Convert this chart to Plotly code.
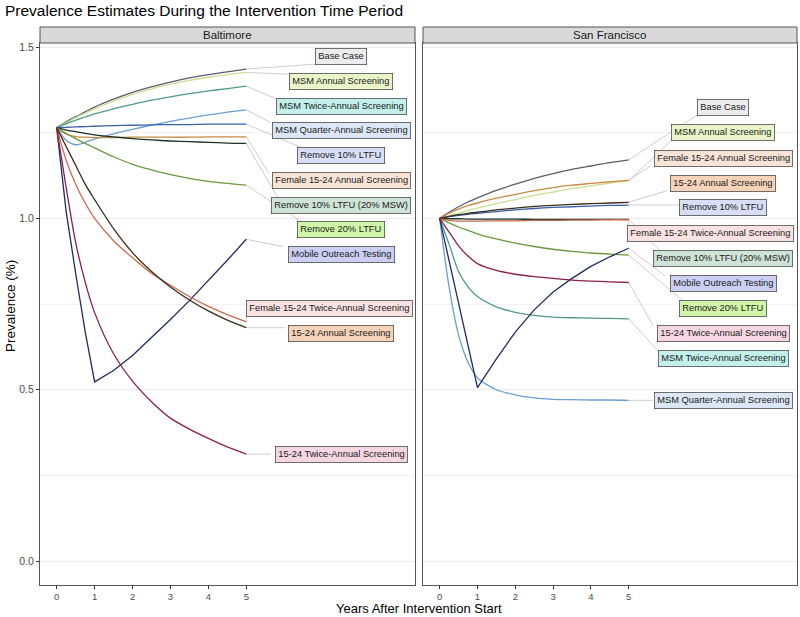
import plotly.graph_objects as go

# ---------------- data ----------------
years = [0, 0.25, 0.5, 0.75, 1, 1.5, 2, 2.5, 3, 3.5, 4, 4.5, 5]

scenarios = [
    "Base Case", "MSM Annual Screening", "MSM Twice-Annual Screening",
    "MSM Quarter-Annual Screening", "Remove 10% LTFU", "Female 15-24 Annual Screening",
    "Remove 10% LTFU (20% MSW)", "Remove 20% LTFU", "Mobile Outreach Testing",
    "Female 15-24 Twice-Annual Screening", "15-24 Annual Screening", "15-24 Twice-Annual Screening",
]

baltimore = {
    "Base Case":                     [1.265, 1.282, 1.297, 1.311, 1.325, 1.348, 1.368, 1.384, 1.398, 1.410, 1.420, 1.428, 1.436],
    "MSM Annual Screening":          [1.265, 1.279, 1.294, 1.307, 1.320, 1.342, 1.362, 1.378, 1.392, 1.403, 1.412, 1.420, 1.426],
    "MSM Twice-Annual Screening":    [1.265, 1.276, 1.287, 1.296, 1.305, 1.320, 1.333, 1.345, 1.355, 1.364, 1.372, 1.379, 1.386],
    "MSM Quarter-Annual Screening":  [1.265, 1.228, 1.215, 1.222, 1.232, 1.247, 1.260, 1.272, 1.283, 1.293, 1.302, 1.310, 1.317],
    "Remove 10% LTFU":               [1.265, 1.266, 1.267, 1.268, 1.269, 1.271, 1.272, 1.273, 1.274, 1.274, 1.275, 1.275, 1.275],
    "Female 15-24 Annual Screening": [1.265, 1.246, 1.239, 1.237, 1.236, 1.236, 1.237, 1.237, 1.237, 1.237, 1.238, 1.238, 1.238],
    "Remove 10% LTFU (20% MSW)":     [1.265, 1.258, 1.253, 1.248, 1.244, 1.238, 1.233, 1.229, 1.226, 1.224, 1.222, 1.220, 1.219],
    "Remove 20% LTFU":               [1.265, 1.248, 1.233, 1.219, 1.206, 1.180, 1.158, 1.142, 1.128, 1.117, 1.108, 1.102, 1.097],
    "Mobile Outreach Testing":       [1.265, 1.020, 0.840, 0.670, 0.523, 0.556, 0.600, 0.652, 0.705, 0.760, 0.818, 0.878, 0.939],
    "Female 15-24 Twice-Annual Screening": [1.265, 1.170, 1.100, 1.045, 1.000, 0.935, 0.885, 0.840, 0.805, 0.772, 0.743, 0.719, 0.698],
    "15-24 Annual Screening":        [1.265, 1.210, 1.155, 1.100, 1.055, 0.970, 0.900, 0.845, 0.800, 0.762, 0.730, 0.703, 0.681],
    "15-24 Twice-Annual Screening":  [1.265, 1.090, 0.930, 0.815, 0.725, 0.605, 0.525, 0.465, 0.417, 0.385, 0.358, 0.333, 0.312],
}

san_francisco = {
    "Base Case":                     [1.0, 1.018, 1.034, 1.048, 1.060, 1.082, 1.100, 1.117, 1.131, 1.143, 1.153, 1.163, 1.171],
    "MSM Annual Screening":          [1.0, 1.008, 1.015, 1.023, 1.030, 1.043, 1.055, 1.067, 1.077, 1.087, 1.095, 1.103, 1.110],
    "MSM Twice-Annual Screening":    [1.0, 0.925, 0.845, 0.800, 0.772, 0.742, 0.726, 0.717, 0.712, 0.710, 0.709, 0.708, 0.707],
    "MSM Quarter-Annual Screening":  [1.0, 0.800, 0.660, 0.580, 0.535, 0.500, 0.485, 0.476, 0.472, 0.471, 0.470, 0.470, 0.469],
    "Remove 10% LTFU":               [1.0, 1.005, 1.009, 1.012, 1.015, 1.020, 1.025, 1.029, 1.032, 1.034, 1.036, 1.038, 1.039],
    "Female 15-24 Annual Screening": [1.0, 1.015, 1.027, 1.037, 1.045, 1.059, 1.070, 1.081, 1.090, 1.097, 1.102, 1.107, 1.111],
    "Remove 10% LTFU (20% MSW)":     [1.0, 0.999, 0.999, 0.998, 0.998, 0.998, 0.998, 0.997, 0.997, 0.997, 0.997, 0.997, 0.997],
    "Remove 20% LTFU":               [1.0, 0.987, 0.975, 0.965, 0.955, 0.940, 0.928, 0.918, 0.910, 0.904, 0.899, 0.896, 0.893],
    "Mobile Outreach Testing":       [1.0, 0.875, 0.750, 0.627, 0.506, 0.590, 0.668, 0.733, 0.785, 0.825, 0.860, 0.888, 0.913],
    "Female 15-24 Twice-Annual Screening": [1.0, 0.994, 0.992, 0.992, 0.992, 0.993, 0.993, 0.994, 0.994, 0.995, 0.995, 0.996, 0.996],
    "15-24 Annual Screening":        [1.0, 1.006, 1.011, 1.015, 1.018, 1.025, 1.030, 1.035, 1.038, 1.041, 1.043, 1.045, 1.047],
    "15-24 Twice-Annual Screening":  [1.0, 0.960, 0.920, 0.890, 0.868, 0.848, 0.837, 0.830, 0.825, 0.820, 0.817, 0.815, 0.813],
}

x_ticks = [0, 1, 2, 3, 4, 5]
y_ticks = [0.0, 0.5, 1.0, 1.5]
y_tick_labels = ["0.0", "0.5", "1.0", "1.5"]

# ---------------- styles / layout positions ----------------
line_colors = {
    "Base Case": "#5c5f6b",
    "MSM Annual Screening": "#c9df92",
    "MSM Twice-Annual Screening": "#4f9a88",
    "MSM Quarter-Annual Screening": "#6b9fd2",
    "Remove 10% LTFU": "#3b60aa",
    "Female 15-24 Annual Screening": "#c88a45",
    "Remove 10% LTFU (20% MSW)": "#1e3326",
    "Remove 20% LTFU": "#6a9a3c",
    "Mobile Outreach Testing": "#1f2d5c",
    "Female 15-24 Twice-Annual Screening": "#cc6a50",
    "15-24 Annual Screening": "#3a2c1c",
    "15-24 Twice-Annual Screening": "#8a2050",
}
label_fills = {
    "Base Case": "#ececec",
    "MSM Annual Screening": "#e9f5c9",
    "MSM Twice-Annual Screening": "#c3f0ea",
    "MSM Quarter-Annual Screening": "#dde6f5",
    "Remove 10% LTFU": "#d8def5",
    "Female 15-24 Annual Screening": "#f8e4d6",
    "Remove 10% LTFU (20% MSW)": "#cfe3d6",
    "Remove 20% LTFU": "#d0f5a8",
    "Mobile Outreach Testing": "#cbd0f2",
    "Female 15-24 Twice-Annual Screening": "#f8e2e2",
    "15-24 Annual Screening": "#f5d3b8",
    "15-24 Twice-Annual Screening": "#f5d6e3",
}

# label (x, y) positions in data units, as repelled in the reference
label_pos_balt = {
    "Base Case": (7.5, 1.472), "MSM Annual Screening": (7.5, 1.399),
    "MSM Twice-Annual Screening": (7.5, 1.328), "MSM Quarter-Annual Screening": (7.5, 1.258),
    "Remove 10% LTFU": (7.5, 1.185), "Female 15-24 Annual Screening": (7.5, 1.112),
    "Remove 10% LTFU (20% MSW)": (7.5, 1.039), "Remove 20% LTFU": (7.5, 0.969),
    "Mobile Outreach Testing": (7.5, 0.896), "Female 15-24 Twice-Annual Screening": (7.2, 0.736),
    "15-24 Annual Screening": (7.5, 0.663), "15-24 Twice-Annual Screening": (7.5, 0.312),
}
label_pos_sf = {
    "Base Case": (7.5, 1.325), "MSM Annual Screening": (7.5, 1.251),
    "Female 15-24 Annual Screening": (7.5, 1.176), "15-24 Annual Screening": (7.5, 1.103),
    "Remove 10% LTFU": (7.5, 1.032), "Female 15-24 Twice-Annual Screening": (7.16, 0.957),
    "Remove 10% LTFU (20% MSW)": (7.5, 0.884), "Mobile Outreach Testing": (7.5, 0.811),
    "Remove 20% LTFU": (7.5, 0.736), "15-24 Twice-Annual Screening": (7.5, 0.665),
    "MSM Twice-Annual Screening": (7.5, 0.592), "MSM Quarter-Annual Screening": (7.5, 0.468),
}

FONT = "Liberation Sans, Arial, Helvetica, sans-serif"
W, H = 800, 617
ML, MR, MT, MB = 40, 3, 43, 32
plot_w = W - ML - MR
plot_h = H - MT - MB
dom1 = [0, (415 - ML) / plot_w]
dom2 = [(423 - ML) / plot_w, 1]
x_range = [-0.44, 9.45]
y_range = [-0.070, 1.512]
px_per_x = (dom1[1] - dom1[0]) * plot_w / (x_range[1] - x_range[0])
px_per_y = plot_h / (y_range[1] - y_range[0])

fig = go.Figure()

panels = [(baltimore, label_pos_balt, "x", "y"), (san_francisco, label_pos_sf, "x2", "y2")]

annotations = []
for data, lpos, xa, ya in panels:
    # leader segments
    sx, sy = [], []
    for name in scenarios:
        ex, ey = years[-1], data[name][-1]
        lx, ly = lpos[name]
        half_w = (len(name) * 4.7 + 9) / 2 / px_per_x
        half_h = 7.5 / px_per_y
        x0 = lx - half_w
        tx = min(max(ex, x0), lx + half_w)
        ty = min(max(ey, ly - half_h), ly + half_h)
        sx += [ex, tx, None]
        sy += [ey, ty, None]
    fig.add_trace(go.Scatter(x=sx, y=sy, mode="lines", xaxis=xa, yaxis=ya,
                             line=dict(color="#b8b8b8", width=0.7),
                             hoverinfo="skip", showlegend=False))
    for name in scenarios:
        shape = "linear" if name == "Mobile Outreach Testing" else "spline"
        fig.add_trace(go.Scatter(x=years, y=data[name], mode="lines", name=name,
                                 xaxis=xa, yaxis=ya, showlegend=False,
                                 line=dict(color=line_colors[name], width=1.3, shape=shape,
                                           smoothing=0.8)))
        lx, ly = lpos[name]
        annotations.append(dict(
            x=lx, y=ly, xref=xa, yref=ya, text=name, showarrow=False,
            font=dict(family=FONT, size=9.3, color="#1a1a1a"),
            bgcolor=label_fills[name], bordercolor="#4d4d4d", borderwidth=0.8,
            borderpad=2.5, xanchor="center", yanchor="middle"))

strip_h = 16 / plot_h
shapes = []
for xa, title in [("x", "Baltimore"), ("x2", "San Francisco")]:
    shapes.append(dict(type="rect", xref=f"{xa} domain", yref="paper",
                       x0=0, x1=1, y0=1, y1=1 + strip_h,
                       fillcolor="#d9d9d9", line=dict(color="#555555", width=1)))
    annotations.append(dict(x=0.5, y=1 + strip_h / 2, xref=f"{xa} domain", yref="paper",
                            text=title, showarrow=False, xanchor="center", yanchor="middle",
                            font=dict(family=FONT, size=11.5, color="#1a1a1a")))

annotations.append(dict(x=0.5, y=(585 - 618) / plot_h, xref="paper", yref="paper",
                        text="Years After Intervention Start", showarrow=False,
                        xanchor="center", yanchor="bottom",
                        font=dict(family=FONT, size=13, color="#000000")))
annotations.append(dict(x=(10 - ML) / plot_w, y=(585 - 306) / plot_h, xref="paper", yref="paper",
                        text="Prevalence (%)", showarrow=False, textangle=-90,
                        xanchor="center", yanchor="middle",
                        font=dict(family=FONT, size=13.5, color="#000000")))

xax = dict(range=x_range, tickvals=x_ticks, showgrid=False, zeroline=False,
           ticks="outside", ticklen=2.5, tickcolor="#333333", tickwidth=1,
           tickfont=dict(family=FONT, size=9.5, color="#4d4d4d"),
           showline=True, mirror=True, linecolor="#555555", linewidth=1)
yax = dict(range=y_range, tickvals=y_ticks, ticktext=y_tick_labels, zeroline=False,
           showgrid=True, gridcolor="#ebebeb", gridwidth=1,
           minor=dict(dtick=0.25, tick0=0, showgrid=True, gridcolor="#f3f3f3", gridwidth=0.6),
           ticks="outside", ticklen=3, tickcolor="#333333", tickwidth=1,
           tickfont=dict(family=FONT, size=10.5, color="#4d4d4d"),
           showline=True, mirror=True, linecolor="#555555", linewidth=1)

fig.update_layout(
    width=W, height=H,
    margin=dict(l=ML, r=MR, t=MT, b=MB),
    paper_bgcolor="white", plot_bgcolor="white",
    font=dict(family=FONT),
    title=dict(text="Prevalence Estimates During the Intervention Time Period",
               x=5 / W, xanchor="left", xref="container",
               y=1 - 11 / H, yanchor="middle", yref="container",
               font=dict(family=FONT, size=15.5, color="#000000")),
    xaxis=dict(domain=dom1, **xax),
    xaxis2=dict(domain=dom2, **xax),
    yaxis=dict(anchor="x", **yax),
    yaxis2=dict(anchor="x2", matches="y", showticklabels=False,
                **{k: v for k, v in yax.items() if k not in ("ticks",)}, ticks=""),
    annotations=annotations,
    shapes=shapes,
)

fig.write_html("out.html", config={"displayModeBar": False},
               post_script="document.body.style.margin='0';")
